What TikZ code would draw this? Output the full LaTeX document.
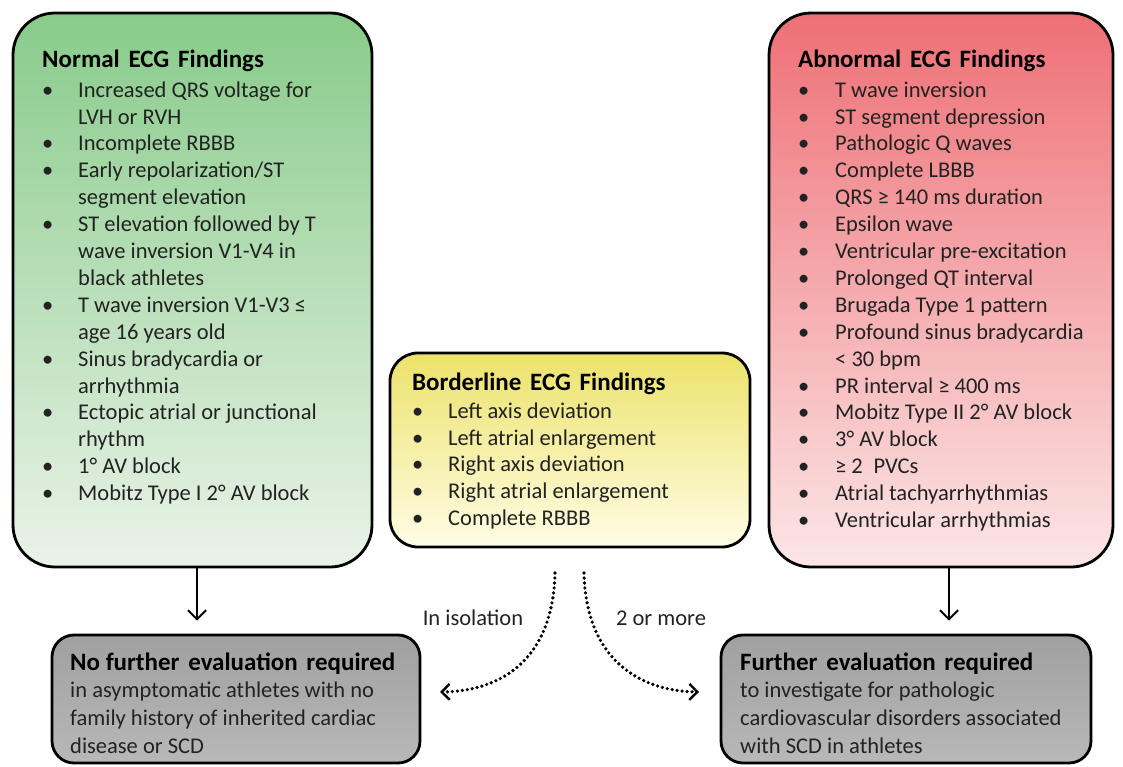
\documentclass[tikz,border=0pt]{standalone}
\usepackage{fontspec}
\setmainfont{Carlito}
\usepackage{array}
\usetikzlibrary{arrows.meta}
\definecolor{greenA}{RGB}{136,203,138}
\definecolor{greenB}{RGB}{234,243,232}
\definecolor{redA}{RGB}{238,112,118}
\definecolor{redB}{RGB}{252,230,230}
\definecolor{yelA}{RGB}{236,226,106}
\definecolor{yelB}{RGB}{255,253,230}
\definecolor{grayA}{RGB}{160,160,160}
\definecolor{grayB}{RGB}{184,184,184}
\definecolor{txtc}{RGB}{34,34,34}
\tikzset{
  box/.style={draw=black, line width=2.8pt, shading=axis, shading angle=45, inner sep=0pt},
  bigbox/.style={box, rounded corners=42pt},
  midbox/.style={box, rounded corners=28pt},
  graybox/.style={box, rounded corners=22pt, top color=grayA, bottom color=grayB},
  txt/.style={inner sep=0pt, text=txtc, font=\fontsize{22.5}{26.9}\selectfont},
  gtxt/.style={inner sep=0pt, text=txtc, font=\fontsize{22.5}{27.7}\selectfont},
  arr/.style={line width=2pt, -{Straight Barb[length=9pt,width=18pt,line width=2pt]}},
  dotarr/.style={line width=3.6pt, line cap=round, dash pattern=on 0pt off 5pt,
    -{Straight Barb[length=8pt,width=16pt,line width=2.4pt]}},
}
\newcommand\hsp{\hspace{0.35em}}
\newcommand\hdf[1]{{\color{black}\fontsize{25}{26.9}\selectfont\bfseries #1}}
\newcommand\hd[1]{\multicolumn{2}{@{}l@{}}{\hdf{#1}}}
\newcommand\bul{\textbullet}
\begin{document}
\begin{tikzpicture}[x=1pt,y=-1pt]
\useasboundingbox (0,0) rectangle (1123,766);
% boxes
\node[bigbox, top color=greenA, bottom color=greenB, minimum width=359pt, minimum height=554pt] (green) at (192.5,290) {};
\node[bigbox, top color=redA, bottom color=redB, minimum width=344pt, minimum height=554pt] (red) at (941,290) {};
\node[midbox, top color=yelA, bottom color=yelB, minimum width=360pt, minimum height=194pt] (yel) at (570,450) {};
\node[graybox, minimum width=368pt, minimum height=128pt] (gl) at (236,699) {};
\node[graybox, minimum width=370pt, minimum height=128pt] (gr) at (906,699) {};
% texts
\node[txt, anchor=base west] (gtext) at (42,67) {\begin{tabular}[t]{@{}p{36pt}@{}l@{}}
\hd{Normal\hsp ECG\hsp Findings}\\[3.2pt]
\bul & Increased QRS voltage for\\
 & LVH or RVH\\
\bul & Incomplete RBBB\\
\bul & Early repolarization/ST\\
 & segment elevation\\
\bul & ST elevation followed by T\\
 & wave inversion V1-V4 in\\
 & black athletes\\
\bul & T wave inversion V1-V3 ≤\\
 & age 16 years old\\
\bul & Sinus bradycardia or\\
 & arrhythmia\\
\bul & Ectopic atrial or junctional\\
 & rhythm\\
\bul & 1° AV block\\
\bul & Mobitz Type I 2° AV block
\end{tabular}};
\node[txt, anchor=base west] (rtext) at (798,67) {\begin{tabular}[t]{@{}p{37pt}@{}l@{}}
\hd{Abnormal\hsp ECG\hsp Findings}\\[3.2pt]
\bul & T wave inversion\\
\bul & ST segment depression\\
\bul & Pathologic Q waves\\
\bul & Complete LBBB\\
\bul & QRS ≥ 140 ms duration\\
\bul & Epsilon wave\\
\bul & Ventricular pre-excitation\\
\bul & Prolonged QT interval\\
\bul & Brugada Type 1 pattern\\
\bul & Profound sinus bradycardia\\
 & < 30 bpm\\
\bul & PR interval ≥ 400 ms\\
\bul & Mobitz Type II 2° AV block\\
\bul & 3° AV block\\
\bul & ≥ 2\hspace{0.25em} PVCs\\
\bul & Atrial tachyarrhythmias\\
\bul & Ventricular arrhythmias
\end{tabular}};
\node[txt, anchor=base west] (ytext) at (412,390) {\begin{tabular}[t]{@{}p{36pt}@{}l@{}}
\hd{Borderline\hsp ECG\hsp Findings}\\[1.2pt]
\bul & Left axis deviation\\
\bul & Left atrial enlargement\\
\bul & Right axis deviation\\
\bul & Right atrial enlargement\\
\bul & Complete RBBB
\end{tabular}};
\node[gtxt, anchor=base west] (gltext) at (70,670) {\begin{tabular}[t]{@{}l@{}}
\hdf{No further\hsp evaluation\hsp required}\\
in asymptomatic athletes with no\\
family history of inherited cardiac\\
disease or SCD
\end{tabular}};
\node[gtxt, anchor=base west] (grtext) at (740,670) {\begin{tabular}[t]{@{}l@{}}
\hdf{Further\hsp evaluation\hsp required}\\
to investigate for pathologic\\
cardiovascular disorders associated\\
with SCD in athletes
\end{tabular}};
% labels
\node[txt, anchor=base] (liso) at (473,625) {In isolation};
\node[txt, anchor=base] (lmore) at (661,625) {2 or more};
% connectors
\draw[arr, shorten >=13pt] ([xshift=4.5pt]green.south) -- ([xshift=4.5pt]green.south |- gl.north);
\draw[arr, shorten >=13pt] ([xshift=8pt]red.south) -- ([xshift=8pt]red.south |- gr.north);
\coordinate (ds1) at (555,573);
\coordinate (ds2) at (584,573);
\coordinate (de1) at (440,692);
\coordinate (de2) at (699,692);
\draw[dotarr] (ds1) .. controls (553,658) and (503,691) .. (de1);
\draw[dotarr] (ds2) .. controls (586,658) and (638,691) .. (de2);
\end{tikzpicture}
\end{document}
